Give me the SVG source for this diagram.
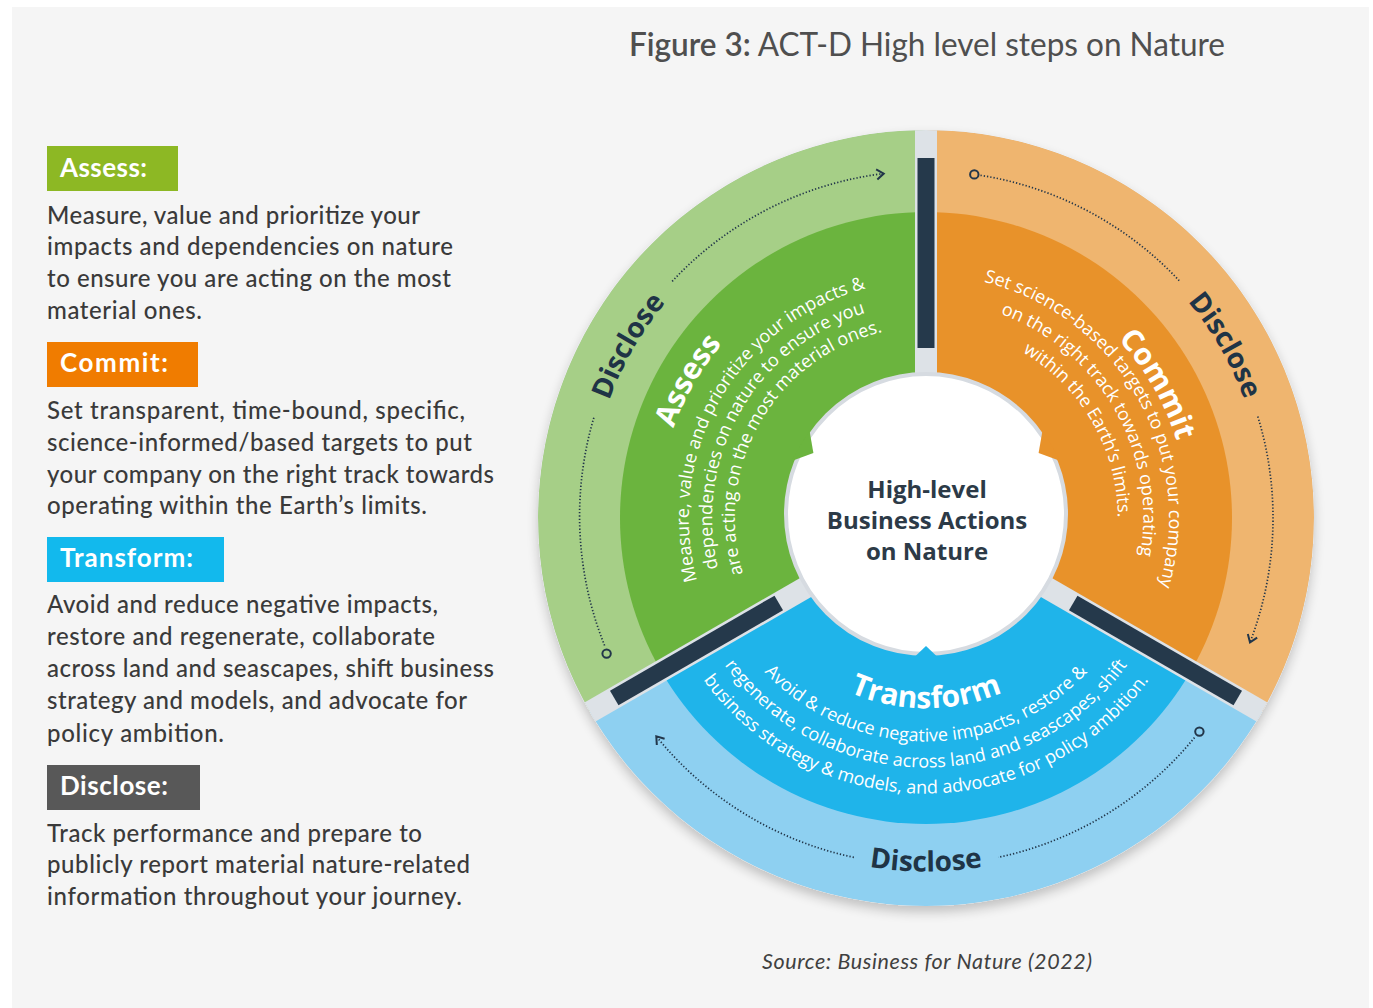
<svg xmlns="http://www.w3.org/2000/svg" width="1373" height="1008" viewBox="0 0 1373 1008">
<style>
.lab{font-family:Lato,"Open Sans","Liberation Sans",sans-serif;font-weight:700;font-size:26px;fill:#ffffff}
.body{font-family:Lato,"Open Sans","Liberation Sans",sans-serif;font-weight:500;font-size:24px;fill:#3a3a3a}
.ttl{font-family:Lato,"Open Sans","Liberation Sans",sans-serif;font-size:32px;fill:#4f4f4f}
.src{font-family:Lato,"Open Sans","Liberation Sans",sans-serif;font-style:italic;font-size:21.5px;fill:#404040}
.seg{font-family:"Open Sans","Noto Sans","Liberation Sans",sans-serif;font-weight:700;font-size:30px;fill:#ffffff}
.wb{font-family:"Open Sans","Noto Sans","Liberation Sans",sans-serif;font-size:18px;fill:#ffffff}
.dis{font-family:"Open Sans","Noto Sans","Liberation Sans",sans-serif;font-weight:700;font-size:28px;fill:#1f3446}
.ctr{font-family:"Open Sans","Noto Sans","Liberation Sans",sans-serif;font-weight:700;font-size:24px;fill:#2c3a47}
.dot{fill:none;stroke:#22364a;stroke-width:1.7;stroke-dasharray:1.3 2}
.ring{fill:none;stroke:#22364a;stroke-width:2}
.strip{fill:#dde2e7}
.bar{fill:#25394b}
</style>
<defs>
<filter id="sh" x="-10%" y="-10%" width="120%" height="125%">
<feGaussianBlur in="SourceAlpha" stdDeviation="6"/>
<feOffset dy="6"/>
<feComponentTransfer><feFuncA type="linear" slope="0.22"/></feComponentTransfer>
<feMerge><feMergeNode/><feMergeNode in="SourceGraphic"/></feMerge>
</filter>
<clipPath id="wheelClip"><circle cx="926" cy="518" r="388"/></clipPath>
<marker id="chev" viewBox="-10 -7 12 14" refX="0" refY="0" markerWidth="12" markerHeight="14" markerUnits="userSpaceOnUse" orient="auto">
<path d="M-7,-5 L0,0 L-7,5" fill="none" stroke="#22364a" stroke-width="2"/>
</marker>
<path id="gT" d="M772.3,737.5 A268,268 0 0 1 1039.3,275.1"/>
<path id="g1" d="M790.1,712.2 A237,237 0 0 1 1026.2,303.2"/>
<path id="g2" d="M803.2,693.3 A214,214 0 0 1 1016.4,324.1"/>
<path id="g3" d="M816.4,674.5 A191,191 0 0 1 1006.7,344.9"/>
<path id="gD" d="M732.1,794.9 A338,338 0 0 1 1068.8,211.7"/>
<path id="oT" d="M815.3,280.5 A262,262 0 0 1 1076.3,732.6"/>
<path id="o1" d="M823.3,297.8 A243,243 0 0 1 1065.4,717.1"/>
<path id="o2" d="M834.3,321.3 A217,217 0 0 1 1050.5,695.8"/>
<path id="o3" d="M844.9,344.0 A192,192 0 0 1 1036.1,675.3"/>
<path id="oD" d="M782.3,209.9 A340,340 0 0 1 1121.0,796.5"/>
<path id="bT" d="M736.7,534.6 A190,190 0 0 0 1115.3,534.6"/>
<path id="b1" d="M703.8,537.4 A223,223 0 0 0 1148.2,537.4"/>
<path id="b2" d="M677.9,539.7 A249,249 0 0 0 1174.1,539.7"/>
<path id="b3" d="M652.0,542.0 A275,275 0 0 0 1200.0,542.0"/>
<path id="bD" d="M574.3,548.8 A353,353 0 0 0 1277.7,548.8"/>
</defs>

<rect x="0" y="0" width="1373" height="1008" fill="#ffffff"/>
<rect x="12" y="7" width="1357" height="1001" fill="#f5f5f5"/>

<g id="title">
<text class="ttl" x="629" y="56" textLength="596" lengthAdjust="spacingAndGlyphs"><tspan font-weight="600">Figure 3:</tspan> ACT-D High level steps on Nature</text>
</g>

<g id="legend-assess">
<rect x="47" y="146" width="131" height="45" fill="#8db824"/>
<text class="lab" x="60" y="177" textLength="87">Assess:</text>
<text class="body" x="47" y="224" textLength="373">Measure, value and prioritize your</text>
<text class="body" x="47" y="255" textLength="406">impacts and dependencies on nature</text>
<text class="body" x="47" y="287" textLength="404">to ensure you are acting on the most</text>
<text class="body" x="47" y="319" textLength="155">material ones.</text>
</g>

<g id="legend-commit">
<rect x="47" y="342" width="151" height="45" fill="#f07c00"/>
<text class="lab" x="60" y="372" textLength="108">Commit:</text>
<text class="body" x="47" y="419" textLength="418">Set transparent, time-bound, specific,</text>
<text class="body" x="47" y="451" textLength="425">science-informed/based targets to put</text>
<text class="body" x="47" y="483" textLength="447">your company on the right track towards</text>
<text class="body" x="47" y="514" textLength="380">operating within the Earth’s limits.</text>
</g>

<g id="legend-transform">
<rect x="47" y="537" width="177" height="45" fill="#12b9ed"/>
<text class="lab" x="60" y="567" textLength="133">Transform:</text>
<text class="body" x="47" y="613" textLength="391">Avoid and reduce negative impacts,</text>
<text class="body" x="47" y="645" textLength="388">restore and regenerate, collaborate</text>
<text class="body" x="47" y="677" textLength="447">across land and seascapes, shift business</text>
<text class="body" x="47" y="709" textLength="420">strategy and models, and advocate for</text>
<text class="body" x="47" y="742" textLength="177">policy ambition.</text>
</g>

<g id="legend-disclose">
<rect x="47" y="765" width="153" height="45" fill="#585858"/>
<text class="lab" x="60" y="795" textLength="108">Disclose:</text>
<text class="body" x="47" y="842" textLength="375">Track performance and prepare to</text>
<text class="body" x="47" y="873" textLength="423">publicly report material nature-related</text>
<text class="body" x="47" y="905" textLength="415">information throughout your journey.</text>
</g>

<g id="wheel">
<circle cx="926" cy="518" r="388" fill="#dde2e7" filter="url(#sh)"/>
<g clip-path="url(#wheelClip)">
<g id="node-assess">
<path d="M926,518 L926,130 A388,388 0 0 0 590,712 Z" fill="#a6cf87"/>
<path d="M926,518 L926,212 A306,306 0 0 0 661,671 Z" fill="#6bb43e"/>
</g>
<g id="node-commit">
<path d="M926,518 L926,130 A388,388 0 0 1 1262,712 Z" fill="#efb56f"/>
<path d="M926,518 L926,212 A306,306 0 0 1 1191,671 Z" fill="#e8922a"/>
</g>
<g id="node-transform">
<path d="M926,518 L590,712 A388,388 0 0 0 1262,712 Z" fill="#8ed0f1"/>
<path d="M926,518 L661,671 A306,306 0 0 0 1191,671 Z" fill="#1fb4ea"/>
</g>
<g id="dividers">
<rect class="strip" x="915" y="126" width="22" height="272"/>
<rect class="strip" x="915" y="126" width="22" height="272" transform="rotate(120 926 518)"/>
<rect class="strip" x="915" y="126" width="22" height="272" transform="rotate(-120 926 518)"/>
<rect class="bar" x="917.5" y="158" width="17" height="190"/>
<rect class="bar" x="917.5" y="158" width="17" height="190" transform="rotate(120 926 518)"/>
<rect class="bar" x="917.5" y="158" width="17" height="190" transform="rotate(-120 926 518)"/>
</g>
</g>
<g id="node-center">
<circle cx="926" cy="514" r="140" fill="#ffffff" stroke="#d6dbe1" stroke-width="4"/>
<path d="M813.4,453 L809.4,430.1 L791.6,461.0 Z" fill="#6bb43e"/>
<path d="M1038.6,453 L1042.6,430.1 L1060.4,461.0 Z" fill="#e8922a"/>
<path d="M926,646 L908.2,662.9 L943.8,662.9 Z" fill="#1fb4ea"/>
<text class="ctr" x="927" y="498" text-anchor="middle">High-level</text>
<text class="ctr" x="927" y="529" text-anchor="middle">Business Actions</text>
<text class="ctr" x="927" y="560" text-anchor="middle">on Nature</text>
</g>
</g>

<g id="connectors">
<circle class="ring" cx="606.6" cy="653.6" r="4.2"/>
<path class="dot" d="M604.6,645.5 A347,347 0 0 1 594.2,416.5"/>
<path class="dot" d="M672.2,281.3 A347,347 0 0 1 883.7,173.6" marker-end="url(#chev)"/>
<circle class="ring" cx="974.3" cy="174.4" r="4.2"/>
<path class="dot" d="M980.5,175.3 A347,347 0 0 1 1179.8,281.3"/>
<path class="dot" d="M1257.8,416.5 A347,347 0 0 1 1250.0,642.4" marker-end="url(#chev)"/>
<circle class="ring" cx="1199.4" cy="731.6" r="4.2"/>
<path class="dot" d="M1194.5,737.6 A347,347 0 0 1 998.1,857.4"/>
<path class="dot" d="M853.9,857.4 A347,347 0 0 1 656.3,736.4" marker-end="url(#chev)"/>
</g>

<g id="wheel-labels">
<text class="seg"><textPath href="#gT" startOffset="50%" text-anchor="middle">Assess</textPath></text>
<text class="wb"><textPath href="#g1" startOffset="50%" text-anchor="middle">Measure, value and prioritize your impacts &amp;</textPath></text>
<text class="wb"><textPath href="#g2" startOffset="50%" text-anchor="middle">dependencies on nature to ensure you</textPath></text>
<text class="wb"><textPath href="#g3" startOffset="50%" text-anchor="middle">are acting on the most material ones.</textPath></text>
<text class="dis"><textPath href="#gD" startOffset="50%" text-anchor="middle">Disclose</textPath></text>

<text class="seg"><textPath href="#oT" startOffset="50%" text-anchor="middle">Commit</textPath></text>
<text class="wb"><textPath href="#o1" startOffset="50%" text-anchor="middle">Set science-based targets to put your company</textPath></text>
<text class="wb"><textPath href="#o2" startOffset="50%" text-anchor="middle">on the right track towards operating</textPath></text>
<text class="wb"><textPath href="#o3" startOffset="50%" text-anchor="middle">within the Earth’s limits.</textPath></text>
<text class="dis"><textPath href="#oD" startOffset="50%" text-anchor="middle">Disclose</textPath></text>

<text class="seg"><textPath href="#bT" startOffset="50%" text-anchor="middle">Transform</textPath></text>
<text class="wb"><textPath href="#b1" startOffset="50%" text-anchor="middle">Avoid &amp; reduce negative impacts, restore &amp;</textPath></text>
<text class="wb"><textPath href="#b2" startOffset="50%" text-anchor="middle">regenerate, collaborate across land and seascapes, shift</textPath></text>
<text class="wb"><textPath href="#b3" startOffset="50%" text-anchor="middle">business strategy &amp; models, and advocate for policy ambition.</textPath></text>
<text class="dis"><textPath href="#bD" startOffset="50%" text-anchor="middle">Disclose</textPath></text>
</g>

<g id="source">
<text class="src" x="762" y="969" textLength="330">Source: Business for Nature (2022)</text>
</g>
</svg>
